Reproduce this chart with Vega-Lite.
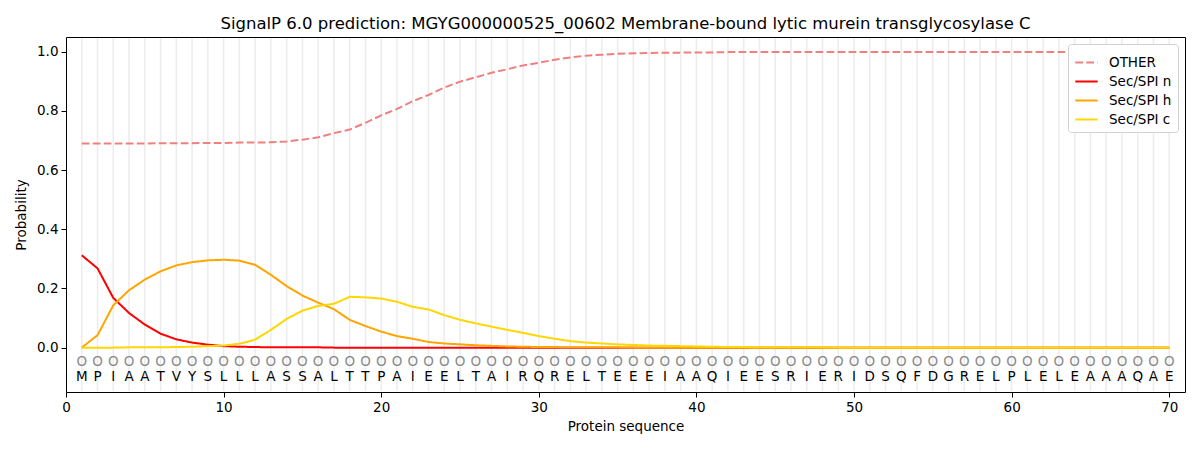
{
  "$schema": "https://vega.github.io/schema/vega-lite/v6.json",
  "autosize": {"type": "none"},
  "width": 1119,
  "height": 355,
  "padding": {"left": 66, "top": 37, "right": 15, "bottom": 58},
  "background": "white",
  "config": {
    "font": "DejaVu Sans",
    "view": {"stroke": "black", "strokeWidth": 1},
    "axis": {"grid": false, "domain": false, "tickColor": "black", "tickSize": 5, "labelFontSize": 13.5, "labelColor": "black", "titleFontSize": 13.5, "titleFontWeight": "normal", "titleColor": "black", "labelFont": "DejaVu Sans", "titleFont": "DejaVu Sans"}
  },
  "title": {"text": "SignalP 6.0 prediction: MGYG000000525_00602 Membrane-bound lytic murein transglycosylase C", "fontSize": 16.5, "fontWeight": "normal", "font": "DejaVu Sans", "color": "black", "offset": 5, "anchor": "middle"},
  "data": {"values": [
    {"pos": 1, "aa": "M", "OTHER": 0.690, "Sec/SPI n": 0.312, "Sec/SPI h": 0.000, "Sec/SPI c": 0.000},
    {"pos": 2, "aa": "P", "OTHER": 0.690, "Sec/SPI n": 0.268, "Sec/SPI h": 0.042, "Sec/SPI c": 0.000},
    {"pos": 3, "aa": "I", "OTHER": 0.690, "Sec/SPI n": 0.168, "Sec/SPI h": 0.143, "Sec/SPI c": 0.000},
    {"pos": 4, "aa": "A", "OTHER": 0.690, "Sec/SPI n": 0.117, "Sec/SPI h": 0.194, "Sec/SPI c": 0.001},
    {"pos": 5, "aa": "A", "OTHER": 0.690, "Sec/SPI n": 0.078, "Sec/SPI h": 0.230, "Sec/SPI c": 0.001},
    {"pos": 6, "aa": "T", "OTHER": 0.691, "Sec/SPI n": 0.047, "Sec/SPI h": 0.258, "Sec/SPI c": 0.001},
    {"pos": 7, "aa": "V", "OTHER": 0.691, "Sec/SPI n": 0.028, "Sec/SPI h": 0.278, "Sec/SPI c": 0.002},
    {"pos": 8, "aa": "Y", "OTHER": 0.691, "Sec/SPI n": 0.017, "Sec/SPI h": 0.289, "Sec/SPI c": 0.003},
    {"pos": 9, "aa": "S", "OTHER": 0.692, "Sec/SPI n": 0.010, "Sec/SPI h": 0.295, "Sec/SPI c": 0.005},
    {"pos": 10, "aa": "L", "OTHER": 0.692, "Sec/SPI n": 0.005, "Sec/SPI h": 0.297, "Sec/SPI c": 0.007},
    {"pos": 11, "aa": "L", "OTHER": 0.693, "Sec/SPI n": 0.003, "Sec/SPI h": 0.294, "Sec/SPI c": 0.013},
    {"pos": 12, "aa": "L", "OTHER": 0.693, "Sec/SPI n": 0.002, "Sec/SPI h": 0.280, "Sec/SPI c": 0.027},
    {"pos": 13, "aa": "A", "OTHER": 0.694, "Sec/SPI n": 0.001, "Sec/SPI h": 0.246, "Sec/SPI c": 0.060},
    {"pos": 14, "aa": "S", "OTHER": 0.697, "Sec/SPI n": 0.001, "Sec/SPI h": 0.208, "Sec/SPI c": 0.097},
    {"pos": 15, "aa": "S", "OTHER": 0.703, "Sec/SPI n": 0.001, "Sec/SPI h": 0.176, "Sec/SPI c": 0.125},
    {"pos": 16, "aa": "A", "OTHER": 0.711, "Sec/SPI n": 0.001, "Sec/SPI h": 0.152, "Sec/SPI c": 0.141},
    {"pos": 17, "aa": "L", "OTHER": 0.725, "Sec/SPI n": 0.000, "Sec/SPI h": 0.130, "Sec/SPI c": 0.148},
    {"pos": 18, "aa": "T", "OTHER": 0.737, "Sec/SPI n": 0.000, "Sec/SPI h": 0.094, "Sec/SPI c": 0.172},
    {"pos": 19, "aa": "T", "OTHER": 0.760, "Sec/SPI n": 0.000, "Sec/SPI h": 0.073, "Sec/SPI c": 0.170},
    {"pos": 20, "aa": "P", "OTHER": 0.785, "Sec/SPI n": 0.000, "Sec/SPI h": 0.054, "Sec/SPI c": 0.166},
    {"pos": 21, "aa": "A", "OTHER": 0.807, "Sec/SPI n": 0.000, "Sec/SPI h": 0.039, "Sec/SPI c": 0.155},
    {"pos": 22, "aa": "I", "OTHER": 0.833, "Sec/SPI n": 0.000, "Sec/SPI h": 0.030, "Sec/SPI c": 0.138},
    {"pos": 23, "aa": "E", "OTHER": 0.854, "Sec/SPI n": 0.000, "Sec/SPI h": 0.019, "Sec/SPI c": 0.129},
    {"pos": 24, "aa": "E", "OTHER": 0.879, "Sec/SPI n": 0.000, "Sec/SPI h": 0.014, "Sec/SPI c": 0.110},
    {"pos": 25, "aa": "L", "OTHER": 0.899, "Sec/SPI n": 0.000, "Sec/SPI h": 0.011, "Sec/SPI c": 0.094},
    {"pos": 26, "aa": "T", "OTHER": 0.914, "Sec/SPI n": 0.000, "Sec/SPI h": 0.008, "Sec/SPI c": 0.082},
    {"pos": 27, "aa": "A", "OTHER": 0.929, "Sec/SPI n": 0.000, "Sec/SPI h": 0.006, "Sec/SPI c": 0.071},
    {"pos": 28, "aa": "I", "OTHER": 0.941, "Sec/SPI n": 0.000, "Sec/SPI h": 0.004, "Sec/SPI c": 0.060},
    {"pos": 29, "aa": "R", "OTHER": 0.954, "Sec/SPI n": 0.000, "Sec/SPI h": 0.003, "Sec/SPI c": 0.050},
    {"pos": 30, "aa": "Q", "OTHER": 0.963, "Sec/SPI n": 0.000, "Sec/SPI h": 0.002, "Sec/SPI c": 0.039},
    {"pos": 31, "aa": "R", "OTHER": 0.973, "Sec/SPI n": 0.000, "Sec/SPI h": 0.002, "Sec/SPI c": 0.030},
    {"pos": 32, "aa": "E", "OTHER": 0.981, "Sec/SPI n": 0.000, "Sec/SPI h": 0.001, "Sec/SPI c": 0.022},
    {"pos": 33, "aa": "L", "OTHER": 0.987, "Sec/SPI n": 0.000, "Sec/SPI h": 0.001, "Sec/SPI c": 0.017},
    {"pos": 34, "aa": "T", "OTHER": 0.990, "Sec/SPI n": 0.000, "Sec/SPI h": 0.001, "Sec/SPI c": 0.014},
    {"pos": 35, "aa": "E", "OTHER": 0.993, "Sec/SPI n": 0.000, "Sec/SPI h": 0.001, "Sec/SPI c": 0.011},
    {"pos": 36, "aa": "E", "OTHER": 0.995, "Sec/SPI n": 0.000, "Sec/SPI h": 0.000, "Sec/SPI c": 0.009},
    {"pos": 37, "aa": "E", "OTHER": 0.996, "Sec/SPI n": 0.000, "Sec/SPI h": 0.000, "Sec/SPI c": 0.007},
    {"pos": 38, "aa": "I", "OTHER": 0.997, "Sec/SPI n": 0.000, "Sec/SPI h": 0.000, "Sec/SPI c": 0.006},
    {"pos": 39, "aa": "A", "OTHER": 0.997, "Sec/SPI n": 0.000, "Sec/SPI h": 0.000, "Sec/SPI c": 0.005},
    {"pos": 40, "aa": "A", "OTHER": 0.998, "Sec/SPI n": 0.000, "Sec/SPI h": 0.000, "Sec/SPI c": 0.004},
    {"pos": 41, "aa": "Q", "OTHER": 0.998, "Sec/SPI n": 0.000, "Sec/SPI h": 0.000, "Sec/SPI c": 0.003},
    {"pos": 42, "aa": "I", "OTHER": 0.999, "Sec/SPI n": 0.000, "Sec/SPI h": 0.000, "Sec/SPI c": 0.002},
    {"pos": 43, "aa": "E", "OTHER": 0.999, "Sec/SPI n": 0.000, "Sec/SPI h": 0.000, "Sec/SPI c": 0.002},
    {"pos": 44, "aa": "E", "OTHER": 0.999, "Sec/SPI n": 0.000, "Sec/SPI h": 0.000, "Sec/SPI c": 0.001},
    {"pos": 45, "aa": "S", "OTHER": 0.999, "Sec/SPI n": 0.000, "Sec/SPI h": 0.000, "Sec/SPI c": 0.001},
    {"pos": 46, "aa": "R", "OTHER": 0.999, "Sec/SPI n": 0.000, "Sec/SPI h": 0.000, "Sec/SPI c": 0.001},
    {"pos": 47, "aa": "I", "OTHER": 0.999, "Sec/SPI n": 0.000, "Sec/SPI h": 0.000, "Sec/SPI c": 0.001},
    {"pos": 48, "aa": "E", "OTHER": 0.999, "Sec/SPI n": 0.000, "Sec/SPI h": 0.000, "Sec/SPI c": 0.001},
    {"pos": 49, "aa": "R", "OTHER": 0.999, "Sec/SPI n": 0.000, "Sec/SPI h": 0.000, "Sec/SPI c": 0.000},
    {"pos": 50, "aa": "I", "OTHER": 0.999, "Sec/SPI n": 0.000, "Sec/SPI h": 0.000, "Sec/SPI c": 0.000},
    {"pos": 51, "aa": "D", "OTHER": 0.999, "Sec/SPI n": 0.000, "Sec/SPI h": 0.000, "Sec/SPI c": 0.000},
    {"pos": 52, "aa": "S", "OTHER": 0.999, "Sec/SPI n": 0.000, "Sec/SPI h": 0.000, "Sec/SPI c": 0.000},
    {"pos": 53, "aa": "Q", "OTHER": 0.999, "Sec/SPI n": 0.000, "Sec/SPI h": 0.000, "Sec/SPI c": 0.000},
    {"pos": 54, "aa": "F", "OTHER": 0.999, "Sec/SPI n": 0.000, "Sec/SPI h": 0.000, "Sec/SPI c": 0.000},
    {"pos": 55, "aa": "D", "OTHER": 0.999, "Sec/SPI n": 0.000, "Sec/SPI h": 0.000, "Sec/SPI c": 0.000},
    {"pos": 56, "aa": "G", "OTHER": 0.999, "Sec/SPI n": 0.000, "Sec/SPI h": 0.000, "Sec/SPI c": 0.000},
    {"pos": 57, "aa": "R", "OTHER": 0.999, "Sec/SPI n": 0.000, "Sec/SPI h": 0.000, "Sec/SPI c": 0.000},
    {"pos": 58, "aa": "E", "OTHER": 0.999, "Sec/SPI n": 0.000, "Sec/SPI h": 0.000, "Sec/SPI c": 0.000},
    {"pos": 59, "aa": "L", "OTHER": 0.999, "Sec/SPI n": 0.000, "Sec/SPI h": 0.000, "Sec/SPI c": 0.000},
    {"pos": 60, "aa": "P", "OTHER": 0.999, "Sec/SPI n": 0.000, "Sec/SPI h": 0.000, "Sec/SPI c": 0.000},
    {"pos": 61, "aa": "L", "OTHER": 0.999, "Sec/SPI n": 0.000, "Sec/SPI h": 0.000, "Sec/SPI c": 0.000},
    {"pos": 62, "aa": "E", "OTHER": 0.999, "Sec/SPI n": 0.000, "Sec/SPI h": 0.000, "Sec/SPI c": 0.000},
    {"pos": 63, "aa": "L", "OTHER": 0.999, "Sec/SPI n": 0.000, "Sec/SPI h": 0.000, "Sec/SPI c": 0.000},
    {"pos": 64, "aa": "E", "OTHER": 0.999, "Sec/SPI n": 0.000, "Sec/SPI h": 0.000, "Sec/SPI c": 0.000},
    {"pos": 65, "aa": "A", "OTHER": 0.999, "Sec/SPI n": 0.000, "Sec/SPI h": 0.000, "Sec/SPI c": 0.000},
    {"pos": 66, "aa": "A", "OTHER": 0.999, "Sec/SPI n": 0.000, "Sec/SPI h": 0.000, "Sec/SPI c": 0.000},
    {"pos": 67, "aa": "A", "OTHER": 0.999, "Sec/SPI n": 0.000, "Sec/SPI h": 0.000, "Sec/SPI c": 0.000},
    {"pos": 68, "aa": "Q", "OTHER": 0.999, "Sec/SPI n": 0.000, "Sec/SPI h": 0.000, "Sec/SPI c": 0.000},
    {"pos": 69, "aa": "A", "OTHER": 0.999, "Sec/SPI n": 0.000, "Sec/SPI h": 0.000, "Sec/SPI c": 0.000},
    {"pos": 70, "aa": "E", "OTHER": 0.999, "Sec/SPI n": 0.000, "Sec/SPI h": 0.000, "Sec/SPI c": 0.000}
  ]},
  "layer": [
    {
      "mark": {"type": "rule", "color": "#ececec", "strokeWidth": 1.5},
      "encoding": {
        "x": {"field": "pos", "type": "quantitative", "scale": {"domain": [0, 71], "nice": false, "zero": false},
          "axis": {"values": [0, 10, 20, 30, 40, 50, 60, 70], "title": "Protein sequence", "titlePadding": 6, "labelPadding": 3, "labelFlush": false}},
        "y": {"datum": -0.1466, "type": "quantitative"},
        "y2": {"datum": 1.0466}
      }
    },
    {
      "mark": {"type": "text", "text": "O", "fontSize": 13.5, "color": "#8a8a8a", "baseline": "middle", "align": "center"},
      "encoding": {
        "x": {"field": "pos", "type": "quantitative"},
        "y": {"datum": -0.049, "type": "quantitative"}
      }
    },
    {
      "mark": {"type": "text", "fontSize": 13.5, "color": "black", "baseline": "middle", "align": "center"},
      "encoding": {
        "x": {"field": "pos", "type": "quantitative"},
        "y": {"datum": -0.098, "type": "quantitative"},
        "text": {"field": "aa"}
      }
    },
    {
      "transform": [{"fold": ["OTHER", "Sec/SPI n", "Sec/SPI h", "Sec/SPI c"], "as": ["series", "prob"]}],
      "mark": {"type": "line", "strokeWidth": 2},
      "encoding": {
        "x": {"field": "pos", "type": "quantitative"},
        "y": {"field": "prob", "type": "quantitative", "scale": {"domain": [-0.15, 1.05], "nice": false, "zero": false},
          "axis": {"values": [0, 0.2, 0.4, 0.6, 0.8, 1.0], "format": ".1f", "title": "Probability", "titlePadding": 8, "labelPadding": 3}},
        "color": {"field": "series", "type": "nominal",
          "scale": {"domain": ["OTHER", "Sec/SPI n", "Sec/SPI h", "Sec/SPI c"], "range": ["#f08080", "#ff0000", "#ffa500", "#ffd700"]},
          "legend": {"title": null, "orient": "top-right", "offset": 7, "symbolType": "stroke", "symbolSize": 500, "symbolStrokeWidth": 2, "labelFontSize": 13.5, "labelFont": "DejaVu Sans", "labelColor": "black", "fillColor": "white", "strokeColor": "#d0d0d0", "cornerRadius": 3, "padding": 6, "rowPadding": 0, "labelOffset": 10}},
        "strokeDash": {"field": "series", "type": "nominal",
          "scale": {"domain": ["OTHER", "Sec/SPI n", "Sec/SPI h", "Sec/SPI c"], "range": [[7.7, 3.3], [1, 0], [1, 0], [1, 0]]},
          "legend": null},
        "order": {"field": "series"}
      }
    }
  ]
}
